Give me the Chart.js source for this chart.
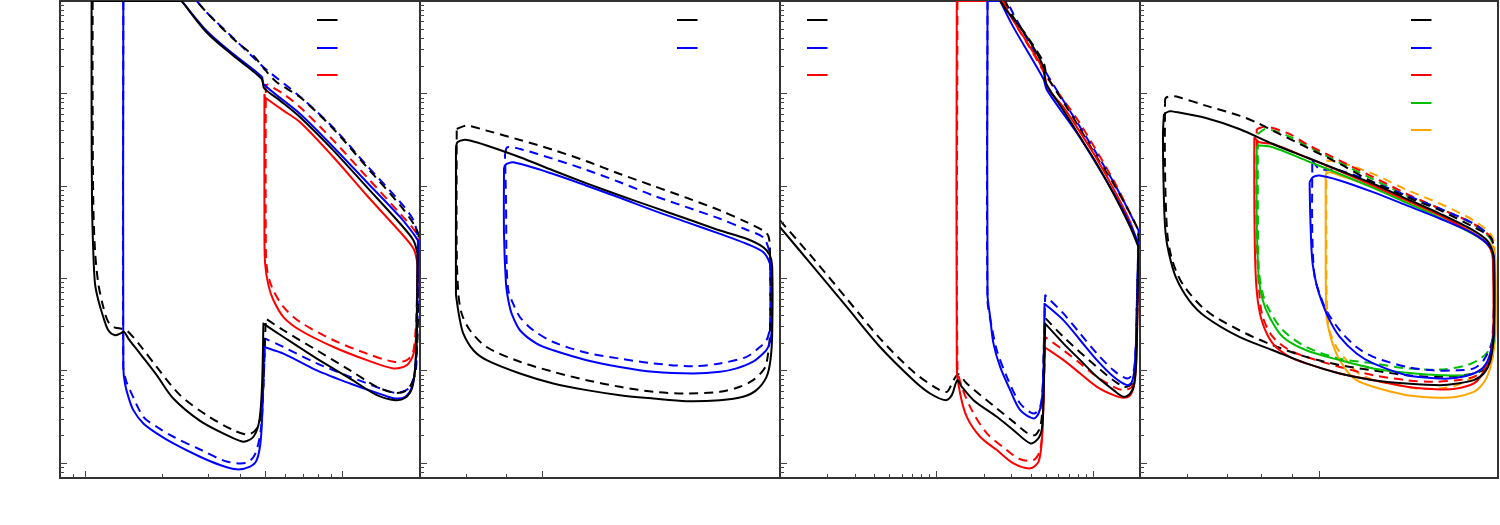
<!DOCTYPE html>
<html><head><meta charset="utf-8">
<script src="https://cdn.jsdelivr.net/npm/chart.js@4/dist/chart.umd.min.js"></script>
<style>
html,body{margin:0;padding:0;background:#fff;}
#wrap{position:relative;width:1500px;height:525px;overflow:hidden;background:#fff;}
canvas{position:absolute;top:0;}
</style></head><body><div id="wrap">
<canvas id="c1" width="362" height="525" style="left:59px"></canvas>
<canvas id="c2" width="362" height="525" style="left:419px"></canvas>
<canvas id="c3" width="362" height="525" style="left:779px"></canvas>
<canvas id="c4" width="360" height="525" style="left:1139px"></canvas>
</div>
<script>
// ---------- axis tick values ----------
const Y_MIN = 0.683, Y_MAX = 100000;
const Y_TICKS = [0.7,0.8,0.9,1,2,3,4,5,6,7,8,9,10,20,30,40,50,60,70,80,90,100,200,300,400,500,600,700,800,900,
  1000,2000,3000,4000,5000,6000,7000,8000,9000,10000,20000,30000,40000,50000,60000,70000,80000,90000];
const Y_MAJOR = [1,10,100,1000,10000];

const P1_X_RANGE = [0.8, 20];
const P1_X_TICKS = [0.9,1,2,3,4,5,6,7,8,9,10];
const P1_X_MAJOR = [1,5,10];
const P2_X_RANGE = [0.7, 2.0];
const P2_X_TICKS = [0.8,0.9,1];
const P2_X_MAJOR = [1];
const P3_X_RANGE = [1, 200];
const P3_X_TICKS = [2,3,4,5,6,7,8,9,10,20,30,40,50,60,70,80,90,100];
const P3_X_MAJOR = [10,100];
const P4_X_RANGE = [0.5, 2.0];
const P4_X_TICKS = [0.6,0.7,0.8,0.9,1];
const P4_X_MAJOR = [1];

// ---------- panel 1 ----------
const P1_BLACK = [[1.061,100000],[1.061,8340],[1.065,692],[1.077,199],[1.094,86.9],[1.127,57.4],[1.178,37.8],[1.232,27.2],[1.308,24.0],[1.368,25.0],[1.418,26.1],[1.474,22.1],[1.636,15.2],[1.899,8.87],[2.204,4.96],[2.799,2.84],[3.553,1.99],[4.125,1.69],[4.511,1.91],[4.759,2.89],[4.874,7.21],[4.932,32.1],[4.932,32.1],[5.899,23.0],[7.951,13.4],[10.71,8.16],[13.60,5.39],[16.03,4.76],[17.53,5.05],[18.61,6.37],[19.17,10.9],[19.45,37.8],[19.57,183],[19.57,183],[18.88,255],[16.76,387],[12.44,964],[9.230,2400],[6.849,5510],[5.726,8340],[4.962,11400],[4.860,14300],[3.771,25500],[2.971,45600],[2.375,100000],[2.375,100000],[1.061,100000]];
const P1_BLACK_D = [[1.071,100000],[1.071,8340],[1.077,692],[1.094,199],[1.127,86.9],[1.178,48.6],[1.232,33.4],[1.308,29.0],[1.388,28.3],[1.452,27.2],[1.636,18.7],[1.899,10.9],[2.340,5.39],[2.971,3.27],[3.771,2.25],[4.314,2.02],[4.647,2.35],[4.831,3.41],[4.932,7.21],[5.037,36.3],[5.037,36.3],[5.899,27.2],[7.951,16.5],[10.71,10.0],[13.60,6.64],[16.03,5.71],[17.79,6.11],[18.88,8.16],[19.45,16.5],[19.69,57.4],[19.75,301],[19.75,301],[18.88,387],[16.76,611],[12.44,1585],[9.230,4110],[6.849,9060],[5.558,13200],[5.037,17600],[4.511,25500],[3.771,38700],[2.971,75100],[2.716,100000]];
const P1_BLUE = [[1.409,100000],[1.409,10.9],[1.430,7.21],[1.474,5.17],[1.541,3.71],[1.686,2.66],[1.899,2.08],[2.204,1.62],[2.799,1.16],[3.348,0.944],[3.886,0.847],[4.378,0.906],[4.647,1.07],[4.816,1.76],[4.903,4.76],[4.962,17.9],[4.962,17.9],[5.899,15.2],[7.951,10.0],[10.71,7.21],[14.44,5.39],[16.03,4.96],[17.53,5.17],[18.61,6.64],[19.17,10.9],[19.45,25.0],[19.63,255],[19.63,255],[18.88,301],[16.76,456],[12.44,1090],[9.230,2610],[6.849,5980],[4.932,12600],[4.860,15100],[3.771,26600],[2.971,47500],[2.375,100000],[2.375,100000],[1.409,100000]];
const P1_BLUE_D = [[1.409,100000],[1.409,10.9],[1.443,7.83],[1.496,6.11],[1.686,3.14],[1.899,2.45],[2.204,1.91],[2.799,1.39],[3.553,1.03],[4.250,1.00],[4.578,1.24],[4.816,2.25],[4.932,6.64],[5.007,22.1],[5.007,22.1],[5.899,17.9],[7.951,11.9],[10.71,8.51],[14.44,6.21],[16.27,5.71],[18.06,6.37],[19.17,9.25],[19.45,16.5],[19.75,255],[19.75,255],[18.88,420],[16.76,664],[12.44,1650],[9.230,4220],[6.849,9200],[5.082,17900],[4.647,22500],[3.771,39600],[2.971,75100],[2.716,100000]];
const P1_RED = [[4.977,9840],[4.977,301],[5.007,143],[5.158,83.3],[5.395,57.4],[5.899,37.8],[6.849,27.2],[9.230,17.9],[12.44,12.9],[15.79,10.5],[17.79,11.4],[18.88,15.2],[19.34,25.0],[19.57,132],[19.57,132],[19.45,155],[18.88,208],[16.76,314],[12.44,783],[9.230,2030],[6.849,4860],[5.899,6500],[5.158,8470],[5.007,9060],[4.977,9840]];
const P1_RED_D = [[5.037,12600],[5.037,301],[5.082,132],[5.316,80.0],[5.899,48.6],[6.849,33.4],[9.230,21.2],[12.44,15.2],[15.79,12.4],[17.79,12.9],[18.88,16.5],[19.45,57.4],[19.75,235],[19.75,235],[19.45,301],[16.76,496],[12.44,1240],[9.230,3080],[6.849,7060],[5.899,9840],[5.082,12600]];

// ---------- panel 2 ----------
const P2_BLACK = [[0.7774,2610],[0.7806,2950],[0.7943,3130],[0.8098,3080],[0.8502,2720],[0.9369,2030],[1.0325,1460],[1.138,1060],[1.254,783],[1.382,586],[1.523,438],[1.679,327],[1.814,266],[1.904,216],[1.942,176],[1.955,132],[1.955,25.0],[1.945,12.9],[1.923,8.51],[1.867,6.11],[1.796,5.17],[1.679,4.76],[1.523,4.64],[1.382,4.96],[1.254,5.39],[1.138,6.11],[1.0325,7.21],[0.9369,9.25],[0.8502,12.9],[0.8179,16.5],[0.7943,25.0],[0.7851,37.8],[0.7791,57.4],[0.7774,67.6],[0.7774,692],[0.7774,2610]];
const P2_BLACK_D = [[0.7791,4110],[0.8020,4470],[0.8502,3950],[0.9369,3130],[1.0325,2440],[1.138,1840],[1.254,1340],[1.382,996],[1.523,739],[1.679,540],[1.814,403],[1.904,327],[1.932,289],[1.942,216],[1.942,25.0],[1.923,11.9],[1.904,10.0],[1.849,7.83],[1.779,6.64],[1.679,5.86],[1.523,5.62],[1.382,5.86],[1.254,6.64],[1.138,7.83],[1.0325,9.64],[0.9369,12.4],[0.8502,17.9],[0.8098,27.2],[0.7906,41.1],[0.7829,67.6],[0.7791,199],[0.7791,4110]];
const P2_BLUE = [[0.8943,1585],[0.9013,1720],[0.9190,1790],[1.0325,1340],[1.138,1000],[1.254,739],[1.382,540],[1.523,403],[1.679,301],[1.814,235],[1.904,191],[1.942,143],[1.951,103],[1.951,25.0],[1.932,17.9],[1.904,15.2],[1.849,12.4],[1.762,10.5],[1.679,9.64],[1.553,9.25],[1.382,9.64],[1.254,10.9],[1.138,12.9],[1.0325,16.5],[0.9836,19.5],[0.9369,27.2],[0.9145,41.1],[0.9057,57.4],[0.8995,86.9],[0.8943,301],[0.8943,1585]];
const P2_BLUE_D = [[0.8968,2210],[0.9031,2610],[0.9369,2500],[1.0325,1950],[1.138,1480],[1.254,1090],[1.382,783],[1.523,586],[1.679,438],[1.814,333],[1.904,277],[1.932,216],[1.942,169],[1.942,29.5],[1.923,21.2],[1.886,17.9],[1.814,14.0],[1.679,11.9],[1.553,11.1],[1.382,11.9],[1.254,13.4],[1.138,15.5],[1.0325,20.3],[0.9741,27.2],[0.9369,37.8],[0.9145,57.4],[0.9057,73.5],[0.9013,132],[0.8995,692],[0.8968,2210]];

// ---------- panel 3 ----------
const P3_BLACK = [[1,356],[1.634,132],[2.670,48.6],[4.362,17.9],[7.127,7.83],[9.111,5.62],[11.47,4.76],[12.53,5.39],[13.17,6.92],[13.62,7.83],[14.52,6.64],[17.25,4.76],[24.32,3.14],[31.09,2.25],[39.73,1.62],[43.84,1.76],[46.50,2.08],[47.64,2.66],[48.35,4.76],[49.55,32.1],[49.55,32.1],[64.93,19.5],[82.99,12.9],[106.1,8.51],[135.6,6.11],[157.1,5.17],[173.3,5.62],[183.9,7.21],[189.4,12.9],[193.1,57.4],[195.9,216],[195.9,216],[173.3,356],[135.6,817],[106.1,1720],[82.99,3340],[64.93,6500],[53.34,10700],[49.55,13700],[48.35,19100],[41.74,31400],[34.30,51800],[28.18,78300],[25.54,100000]];
const P3_BLACK_D = [[1,420],[1.634,162],[2.670,59.8],[4.362,22.1],[7.127,9.64],[10.05,6.37],[11.65,5.86],[12.85,7.83],[13.82,9.09],[15.63,7.21],[24.32,3.87],[31.09,2.77],[37.84,2.11],[42.77,1.99],[46.04,2.45],[47.64,4.03],[48.83,25.0],[50.04,36.3],[50.04,36.3],[64.93,23.0],[106.1,10.9],[157.1,6.64],[177.6,7.21],[186.6,10.9],[191.2,57.4],[195.9,255],[195.9,327],[195.9,327],[173.3,496],[135.6,1050],[106.1,2030],[82.99,4110],[64.93,8000],[50.78,15500],[48.35,21600],[39.73,37100],[31.09,66400],[27.50,100000]];
const P3_BLUE = [[21.20,100000],[21.20,67.6],[22.04,37.8],[23.15,19.5],[25.54,10.9],[29.60,6.11],[34.30,3.71],[41.74,3.01],[44.93,3.41],[47.19,4.76],[48.35,10.9],[49.07,52.8],[49.07,52.8],[64.93,34.8],[82.99,21.2],[106.1,12.9],[135.6,8.51],[165.0,6.92],[177.6,7.52],[184.8,10.9],[189.4,25.0],[194.0,132],[195.9,235],[195.9,235],[173.3,380],[135.6,830],[82.99,3290],[50.78,10900],[48.35,14300],[31.09,51800],[25.54,100000],[25.54,100000],[21.20,100000]];
const P3_BLUE_D = [[21.20,100000],[21.20,57.4],[22.59,29.5],[24.32,16.5],[28.18,8.51],[34.30,4.38],[41.74,3.41],[46.04,4.03],[47.87,7.21],[49.55,65.0],[49.55,65.0],[64.93,41.1],[82.99,25.0],[106.1,15.2],[135.6,10.0],[165.0,8.16],[180.3,9.25],[186.6,14.0],[191.2,57.4],[195.9,327],[195.9,327],[135.6,1090],[82.99,4290],[50.78,16200],[31.09,72100],[28.18,100000]];
const P3_RED = [[13.49,100000],[13.49,10.9],[14.17,5.62],[15.63,3.14],[19.02,1.91],[24.32,1.37],[31.09,0.984],[39.73,0.869],[44.93,1.03],[47.19,1.76],[48.35,4.76],[49.07,17.9],[49.07,17.9],[64.93,12.9],[82.99,9.25],[106.1,6.64],[135.6,5.39],[157.1,5.05],[173.3,5.39],[183.9,7.21],[189.4,12.9],[193.1,57.4],[195.9,216],[195.9,216],[173.3,403],[135.6,924],[106.1,1950],[82.99,3780],[64.93,7060],[50.78,11600],[49.55,15100],[46.04,20800],[39.73,31400],[31.09,61100],[26.18,100000],[26.18,100000],[13.49,100000]];
const P3_RED_D = [[13.62,100000],[13.62,10.9],[14.52,6.64],[16.83,3.71],[20.99,2.08],[28.18,1.37],[34.30,1.09],[41.74,1.07],[46.04,1.37],[47.87,3.14],[49.55,23.0],[49.55,23.0],[64.93,16.5],[82.99,11.9],[106.1,8.51],[135.6,6.64],[157.1,6.11],[177.6,6.64],[186.6,10.0],[193.1,57.4],[195.9,327],[195.9,327],[135.6,1140],[82.99,4670],[64.93,8470],[50.78,15100],[41.74,26600],[31.09,61100],[26.83,100000]];

// ---------- panel 4 ----------
const P4_BLACK = [[0.5486,5980],[0.5594,6380],[0.5668,6380],[0.6452,5410],[0.7345,4110],[0.8363,2830],[0.9519,2030],[1.0837,1460],[1.2337,1050],[1.4045,721],[1.5990,496],[1.8202,327],[1.9170,255],[1.9623,183],[1.9673,132],[1.9673,25.0],[1.9421,12.9],[1.8923,9.25],[1.8202,7.83],[1.7061,7.21],[1.5990,6.92],[1.4045,7.21],[1.2337,7.83],[1.0837,9.25],[0.9519,11.9],[0.8363,16.5],[0.7345,23.0],[0.6452,37.8],[0.6047,57.4],[0.5741,103],[0.5594,183],[0.5522,301],[0.5486,692],[0.5465,3630],[0.5486,5980]];
const P4_BLACK_D = [[0.5508,7670],[0.5522,8910],[0.5668,9290],[0.5816,9060],[0.6452,7360],[0.7345,5740],[0.7836,4860],[0.8363,3950],[0.9519,2610],[1.0837,1720],[1.2337,1090],[1.4045,752],[1.5990,540],[1.8202,356],[1.9421,277],[1.9673,216],[1.9673,16.5],[1.9170,10.9],[1.8202,9.25],[1.5990,8.51],[1.4045,8.87],[1.2337,10.0],[1.0837,11.4],[0.9519,14.0],[0.8363,18.7],[0.7345,27.2],[0.6452,44.7],[0.5893,86.9],[0.5668,155],[0.5558,301],[0.5508,1585],[0.5508,7670]];
const P4_BLUE = [[0.9643,1090],[0.9770,1240],[1.0026,1290],[1.0837,1140],[1.2337,851],[1.4045,611],[1.5990,438],[1.8202,301],[1.9295,225],[1.9673,169],[1.9673,25.0],[1.9421,15.2],[1.8923,10.9],[1.8202,9.25],[1.7061,8.30],[1.5990,8.16],[1.4045,8.87],[1.2337,11.9],[1.1563,15.2],[1.0837,23.0],[1.0424,34.8],[1.0091,57.4],[0.9897,86.9],[0.9743,155],[0.9669,456],[0.9643,1090]];
const P4_BLUE_D = [[0.9743,1870],[1.0026,1520],[1.0837,1460],[1.2337,1090],[1.4045,783],[1.5990,562],[1.8202,387],[1.9421,277],[1.9673,199],[1.9547,21.2],[1.8923,12.9],[1.8202,10.5],[1.7061,10.0],[1.5581,10.0],[1.4045,10.9],[1.2337,14.0],[1.1563,17.9],[1.0837,27.2],[1.0289,44.7],[1.0026,67.6],[0.9833,103],[0.9743,301],[0.9743,1870]];
const P4_RED = [[0.7784,3340],[0.7938,2950],[0.8363,2830],[0.9519,2030],[1.0837,1440],[1.2337,1000],[1.4045,692],[1.5990,476],[1.8202,301],[1.9170,235],[1.9547,183],[1.9623,132],[1.9623,25.0],[1.9295,12.9],[1.8680,8.51],[1.8202,7.21],[1.7061,6.37],[1.5990,6.21],[1.4045,6.64],[1.2337,7.83],[1.0837,9.25],[0.9519,11.9],[0.8923,14.0],[0.8363,19.5],[0.8043,32.1],[0.7888,57.4],[0.7816,132],[0.7784,692],[0.7784,3340]];
const P4_RED_D = [[0.7857,4110],[0.8149,4370],[0.8923,3630],[0.9519,2830],[1.0837,1870],[1.2337,1240],[1.4045,817],[1.5990,562],[1.8202,387],[1.9421,277],[1.9623,199],[1.9623,17.9],[1.8923,10.0],[1.8202,8.51],[1.7061,7.83],[1.5581,7.52],[1.4045,7.83],[1.2337,8.87],[1.0837,10.9],[0.9519,14.0],[0.8923,16.5],[0.8363,23.0],[0.8043,37.8],[0.7938,67.6],[0.7857,301],[0.7857,4110]];
const P4_GREEN = [[0.7857,2610],[0.7938,2720],[0.8363,2610],[0.9519,1870],[1.0837,1340],[1.2337,948],[1.4045,652],[1.5990,449],[1.8202,297],[1.9295,225],[1.9673,169],[1.9724,132],[1.9724,25.0],[1.9547,16.5],[1.9170,11.9],[1.8680,10.0],[1.7738,8.87],[1.5990,8.87],[1.4045,9.40],[1.2337,10.5],[1.0837,12.9],[0.9519,16.5],[0.8694,23.0],[0.8254,37.8],[0.8043,57.4],[0.7917,103],[0.7857,456],[0.7857,2610]];
const P4_GREEN_D = [[0.7888,3630],[0.8149,4110],[0.8923,3400],[0.9519,2720],[1.0837,1770],[1.2337,1170],[1.4045,783],[1.5990,562],[1.8202,380],[1.9421,266],[1.9673,183],[1.9673,25.0],[1.9295,16.5],[1.8680,13.4],[1.7738,11.4],[1.5990,10.2],[1.4045,10.5],[1.2337,11.9],[1.0837,13.4],[0.9519,17.9],[0.8694,27.2],[0.8254,44.7],[0.8043,67.6],[0.7917,132],[0.7888,3630]];
const P4_ORANGE = [[1.0263,1340],[1.0424,1400],[1.0837,1290],[1.2337,964],[1.4045,674],[1.5990,476],[1.8202,314],[1.9421,235],[1.9750,183],[1.9801,132],[1.9801,25.0],[1.9547,12.9],[1.9170,8.51],[1.8680,6.64],[1.8202,5.86],[1.7061,5.17],[1.5990,5.05],[1.4045,5.39],[1.2337,6.64],[1.1563,7.83],[1.1121,10.0],[1.0697,15.2],[1.0424,25.0],[1.0289,41.1],[1.0263,301],[1.0263,1340]];
const P4_ORANGE_D = [[1.0289,1870],[1.0837,1790],[1.2337,1340],[1.4045,901],[1.5990,637],[1.8202,420],[1.9421,301],[1.9724,235],[1.9724,25.0],[1.9421,15.2],[1.8923,10.9],[1.8202,8.51],[1.7061,6.92],[1.5990,6.37],[1.4602,6.37],[1.3163,7.21],[1.2337,7.83],[1.1563,9.64],[1.1121,12.9],[1.0697,17.9],[1.0356,32.1],[1.0289,301],[1.0289,1870]];

// ---------- styling / building ----------
const COL = { black:'#000000', blue:'#0000ff', red:'#ff0000', green:'#00bf00', orange:'#ffa500' };
const FRAME = '#333333';

function series(data, color, dashed) {
  return {
    data: data.map(p => ({ x: p[0], y: p[1] })),
    borderColor: color, backgroundColor: color,
    borderWidth: 2, borderDash: dashed ? [9, 6] : [],
    showLine: true, pointRadius: 0, pointHoverRadius: 0,
    fill: false, tension: 0.3, borderJoinStyle: 'round',
    _solid: !dashed
  };
}

function logAxis(pos, range, ticks, majors) {
  return {
    type: 'logarithmic', position: pos, min: range[0], max: range[1],
    grid: { display: false, drawTicks: false },
    ticks: { display: false },
    border: { display: true, color: FRAME, width: 2 },
    afterBuildTicks: s => { s.ticks = ticks.map(v => ({ value: v, major: majors.includes(v) })); }
  };
}
function frameAxis(pos) {
  return {
    type: 'linear', position: pos, display: true,
    grid: { display: false, drawTicks: false },
    ticks: { display: false },
    border: { display: true, color: FRAME, width: 2 }
  };
}

const tickMarks = {
  id: 'tickMarks',
  afterDraw(chart) {
    const ctx = chart.ctx, a = chart.chartArea;
    const xs = chart.scales.x, ys = chart.scales.y;
    ctx.save();
    ctx.strokeStyle = '#444'; ctx.lineWidth = 1;
    xs.ticks.forEach(t => {
      const p = Math.round(xs.getPixelForValue(t.value)) + 0.5;
      if (p < a.left + 2 || p > a.right - 2) return;
      const len = t.major ? 7 : 4;
      ctx.beginPath(); ctx.moveTo(p, a.bottom); ctx.lineTo(p, a.bottom - len); ctx.stroke();
    });
    ys.ticks.forEach(t => {
      const p = Math.round(ys.getPixelForValue(t.value)) + 0.5;
      if (p < a.top + 2 || p > a.bottom - 2) return;
      const len = t.major ? 7 : 4;
      ctx.beginPath(); ctx.moveTo(a.left, p); ctx.lineTo(a.left + len, p); ctx.stroke();
    });
    ctx.restore();
  }
};

function lineLegend(side, offset) {
  return {
    id: 'lineLegend',
    afterDraw(chart) {
      const ctx = chart.ctx, a = chart.chartArea;
      const solids = chart.data.datasets.filter(d => d._solid);
      ctx.save();
      ctx.lineWidth = 2; ctx.setLineDash([]);
      solids.forEach((d, i) => {
        const y = Math.round(a.top + 19 + i * 27.5);
        const x0 = side === 'right' ? a.right - offset - 20 : a.left + offset;
        ctx.strokeStyle = d.borderColor;
        ctx.beginPath(); ctx.moveTo(x0, y); ctx.lineTo(x0 + 20.5, y); ctx.stroke();
      });
      ctx.restore();
    }
  };
}

function makeChart(id, xRange, xTicks, xMajor, datasets, legendSide, legendOffset) {
  return new Chart(document.getElementById(id), {
    type: 'scatter',
    data: { datasets },
    options: {
      responsive: false, animation: false, events: [],
      layout: { padding: { left: 1, right: 1, top: 1, bottom: 47 } },
      plugins: { legend: { display: false }, tooltip: { enabled: false } },
      scales: {
        x: logAxis('bottom', xRange, xTicks, xMajor),
        y: logAxis('left', [Y_MIN, Y_MAX], Y_TICKS, Y_MAJOR),
        x2: frameAxis('top'),
        y2: frameAxis('right')
      }
    },
    plugins: [tickMarks, lineLegend(legendSide, legendOffset)]
  });
}

makeChart('c1', P1_X_RANGE, P1_X_TICKS, P1_X_MAJOR, [
  series(P1_BLACK, COL.black, false), series(P1_BLUE, COL.blue, false), series(P1_RED, COL.red, false),
  series(P1_BLACK_D, COL.black, true), series(P1_BLUE_D, COL.blue, true), series(P1_RED_D, COL.red, true)
], 'right', 83);

makeChart('c2', P2_X_RANGE, P2_X_TICKS, P2_X_MAJOR, [
  series(P2_BLACK, COL.black, false), series(P2_BLUE, COL.blue, false),
  series(P2_BLACK_D, COL.black, true), series(P2_BLUE_D, COL.blue, true)
], 'right', 83);

makeChart('c3', P3_X_RANGE, P3_X_TICKS, P3_X_MAJOR, [
  series(P3_BLACK, COL.black, false), series(P3_BLUE, COL.blue, false), series(P3_RED, COL.red, false),
  series(P3_BLACK_D, COL.black, true), series(P3_BLUE_D, COL.blue, true), series(P3_RED_D, COL.red, true)
], 'left', 27);

makeChart('c4', P4_X_RANGE, P4_X_TICKS, P4_X_MAJOR, [
  series(P4_BLACK, COL.black, false), series(P4_BLUE, COL.blue, false), series(P4_RED, COL.red, false),
  series(P4_GREEN, COL.green, false), series(P4_ORANGE, COL.orange, false),
  series(P4_BLACK_D, COL.black, true), series(P4_BLUE_D, COL.blue, true), series(P4_RED_D, COL.red, true),
  series(P4_GREEN_D, COL.green, true), series(P4_ORANGE_D, COL.orange, true)
], 'right', 67);
</script>
</body></html>
